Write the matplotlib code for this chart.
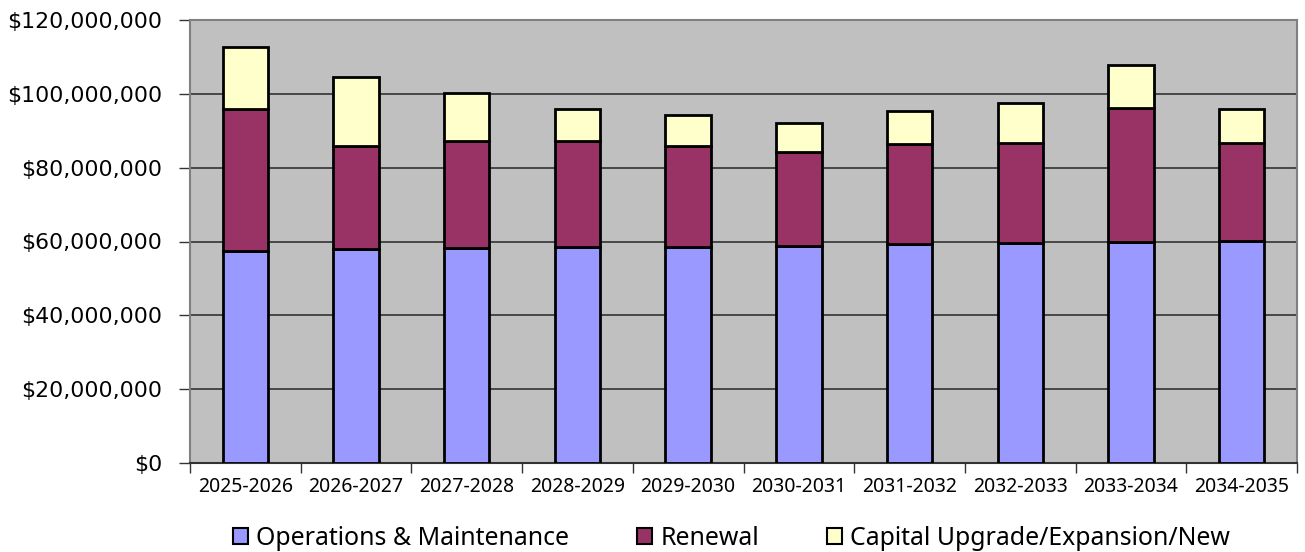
import matplotlib.pyplot as plt
import numpy as np
from matplotlib.patches import Patch
from matplotlib.ticker import FuncFormatter, MultipleLocator

# fiscal years and cumulative heights ($M) of each stack level
years = ['2025-2026', '2026-2027', '2027-2028', '2028-2029', '2029-2030',
         '2030-2031', '2031-2032', '2032-2033', '2033-2034', '2034-2035']
om_top = [57.3, 57.9, 58.2, 58.5, 58.6, 58.9, 59.3, 59.6, 59.8, 60.1]
renewal_top = [95.9, 86.0, 87.2, 87.3, 86.0, 84.3, 86.4, 86.7, 96.2, 86.7]
capital_top = [112.8, 104.6, 100.2, 96.0, 94.3, 92.0, 95.3, 97.5, 107.7, 95.9]

series_names = ['Operations & Maintenance', 'Renewal', 'Capital Upgrade/Expansion/New']
colors = ['#9999FF', '#993366', '#FFFFCC']

om = np.array(om_top) * 1e6
renewal = (np.array(renewal_top) - np.array(om_top)) * 1e6
capital = (np.array(capital_top) - np.array(renewal_top)) * 1e6

plt.rcParams['font.family'] = ['Noto Sans', 'DejaVu Sans']

fig = plt.figure(figsize=(13.05, 5.52), dpi=100)
ax = fig.add_axes([0.1456, 0.1612, 0.8483, 0.8026])
ax.set_facecolor('#C0C0C0')

x = np.arange(len(years))
w = 0.41
ax.bar(x, om, w, color=colors[0], edgecolor='black', linewidth=2, zorder=3)
ax.bar(x, renewal, w, bottom=om, color=colors[1], edgecolor='black', linewidth=2, zorder=3)
ax.bar(x, capital, w, bottom=om + renewal, color=colors[2], edgecolor='black', linewidth=2, zorder=3)

ax.set_xlim(-0.5, len(years) - 0.5)
ax.set_ylim(0, 120e6)
ax.yaxis.set_major_locator(MultipleLocator(20e6))
ax.yaxis.set_major_formatter(FuncFormatter(lambda v, p: '${:,.0f}'.format(v)))
ax.grid(axis='y', color='#333333', linewidth=1.2, zorder=1)

# category labels without marks, marks at boundaries between years
ax.set_xticks(x)
ax.set_xticklabels(years, fontsize=14)
ax.tick_params(axis='x', which='major', length=0, pad=10)
ax.set_xticks(np.arange(-0.5, len(years)), minor=True)
ax.tick_params(axis='x', which='minor', length=7, width=1, color='#333333')
ax.tick_params(axis='y', length=8, width=1, color='#333333', pad=12)
for lbl in ax.get_yticklabels():
    lbl.set_fontfamily('DejaVu Sans')
    lbl.set_fontsize(15.8)

for s in ['top', 'right', 'left']:
    ax.spines[s].set_color('#808080')
    ax.spines[s].set_linewidth(1.5)
ax.spines['bottom'].set_color('#333333')
ax.spines['bottom'].set_linewidth(1.5)

handles = [Patch(facecolor=c, edgecolor='black', linewidth=1.5) for c in colors]
fig.legend(handles, series_names, loc='center', bbox_to_anchor=(0.5605, 0.025),
           ncol=3, frameon=False, fontsize=17.9, handlelength=0.6, handleheight=0.62,
           handletextpad=0.33, columnspacing=2.75, borderpad=0.2)

fig.savefig('out.png', dpi=100)
